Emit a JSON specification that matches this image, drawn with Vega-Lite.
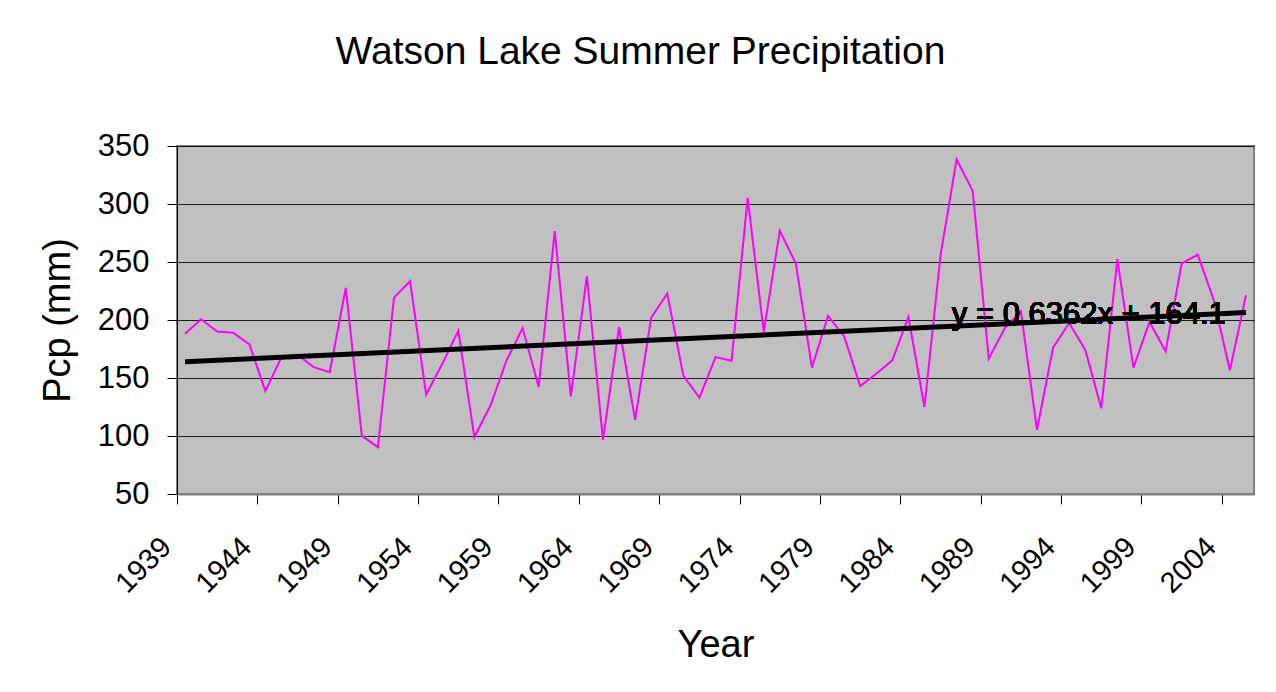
{
  "$schema": "https://vega.github.io/schema/vega-lite/v6.json",
  "width": 1077,
  "height": 348,
  "autosize": {"type": "none"},
  "padding": {"left": 177, "top": 146, "right": 22, "bottom": 198},
  "background": "white",
  "title": {
    "text": "Watson Lake Summer Precipitation",
    "font": "Liberation Sans",
    "fontSize": 39,
    "fontWeight": "normal",
    "color": "black",
    "anchor": "middle",
    "dx": -75,
    "offset": 58
  },
  "config": {
    "view": {"fill": "#C0C0C0", "stroke": "#808080", "strokeWidth": 2},
    "font": "Liberation Sans"
  },
  "data": {
    "values": [
      {"Year": 1939, "Pcp": 188.2}, {"Year": 1940, "Pcp": 200.6}, {"Year": 1941, "Pcp": 190.0}, {"Year": 1942, "Pcp": 189.0},
      {"Year": 1943, "Pcp": 179.0}, {"Year": 1944, "Pcp": 138.7}, {"Year": 1945, "Pcp": 168.0}, {"Year": 1946, "Pcp": 170.0},
      {"Year": 1947, "Pcp": 159.4}, {"Year": 1948, "Pcp": 155.0}, {"Year": 1949, "Pcp": 227.7}, {"Year": 1950, "Pcp": 100.1},
      {"Year": 1951, "Pcp": 90.4}, {"Year": 1952, "Pcp": 219.3}, {"Year": 1953, "Pcp": 233.4}, {"Year": 1954, "Pcp": 135.8},
      {"Year": 1955, "Pcp": 162.0}, {"Year": 1956, "Pcp": 190.8}, {"Year": 1957, "Pcp": 99.0}, {"Year": 1958, "Pcp": 126.3},
      {"Year": 1959, "Pcp": 165.2}, {"Year": 1960, "Pcp": 193.1}, {"Year": 1961, "Pcp": 142.2}, {"Year": 1962, "Pcp": 276.6},
      {"Year": 1963, "Pcp": 134.1}, {"Year": 1964, "Pcp": 237.7}, {"Year": 1965, "Pcp": 96.7}, {"Year": 1966, "Pcp": 194.0},
      {"Year": 1967, "Pcp": 114.0}, {"Year": 1968, "Pcp": 202.0}, {"Year": 1969, "Pcp": 222.8}, {"Year": 1970, "Pcp": 152.0},
      {"Year": 1971, "Pcp": 133.0}, {"Year": 1972, "Pcp": 168.0}, {"Year": 1973, "Pcp": 164.9}, {"Year": 1974, "Pcp": 305.4},
      {"Year": 1975, "Pcp": 189.7}, {"Year": 1976, "Pcp": 276.9}, {"Year": 1977, "Pcp": 248.7}, {"Year": 1978, "Pcp": 158.9},
      {"Year": 1979, "Pcp": 203.5}, {"Year": 1980, "Pcp": 186.0}, {"Year": 1981, "Pcp": 143.0}, {"Year": 1982, "Pcp": 153.7},
      {"Year": 1983, "Pcp": 165.2}, {"Year": 1984, "Pcp": 202.6}, {"Year": 1985, "Pcp": 125.0}, {"Year": 1986, "Pcp": 255.9},
      {"Year": 1987, "Pcp": 338.5}, {"Year": 1988, "Pcp": 311.4}, {"Year": 1989, "Pcp": 166.6}, {"Year": 1990, "Pcp": 193.0},
      {"Year": 1991, "Pcp": 207.5}, {"Year": 1992, "Pcp": 105.3}, {"Year": 1993, "Pcp": 176.1}, {"Year": 1994, "Pcp": 197.4},
      {"Year": 1995, "Pcp": 174.4}, {"Year": 1996, "Pcp": 124.0}, {"Year": 1997, "Pcp": 252.4}, {"Year": 1998, "Pcp": 159.0},
      {"Year": 1999, "Pcp": 198.3}, {"Year": 2000, "Pcp": 173.0}, {"Year": 2001, "Pcp": 248.7}, {"Year": 2002, "Pcp": 256.4},
      {"Year": 2003, "Pcp": 217.0}, {"Year": 2004, "Pcp": 156.6}, {"Year": 2005, "Pcp": 221.3}
    ]
  },
  "layer": [
    {
      "mark": {"type": "line", "color": "#FF00FF", "strokeWidth": 2},
      "encoding": {
        "x": {
          "field": "Year",
          "type": "quantitative",
          "scale": {"domain": [1938.5, 2005.5], "nice": false, "zero": false},
          "axis": {
            "title": "Year",
            "titleFont": "Liberation Sans",
            "titleFontSize": 38,
            "titleFontWeight": "normal",
            "titleColor": "black",
            "titlePadding": 28,
            "values": [1939, 1944, 1949, 1954, 1959, 1964, 1969, 1974, 1979, 1984, 1989, 1994, 1999, 2004],
            "format": "d",
            "labelFont": "Liberation Sans",
            "labelFontSize": 29,
            "labelColor": "black",
            "labelAngle": -45,
            "labelAlign": "right",
            "labelBaseline": "middle",
            "labelPadding": 38,
            "labelOffset": -11,
            "tickOffset": -8.03,
            "tickSize": 10,
            "tickColor": "black",
            "domainColor": "#808080",
            "domainWidth": 2,
            "grid": false,
            "labelOverlap": false,
            "labelFlush": false
          }
        },
        "y": {
          "field": "Pcp",
          "type": "quantitative",
          "scale": {"domain": [50, 350], "nice": false, "zero": false},
          "axis": {
            "title": "Pcp (mm)",
            "titleFont": "Liberation Sans",
            "titleFontSize": 38,
            "titleFontWeight": "normal",
            "titleColor": "black",
            "titlePadding": 20,
            "values": [50, 100, 150, 200, 250, 300, 350],
            "labelFont": "Liberation Sans",
            "labelFontSize": 31,
            "labelColor": "black",
            "labelPadding": 18,
            "tickSize": 10,
            "tickColor": "black",
            "domainColor": "black",
            "domainWidth": 1,
            "grid": true,
            "gridColor": "black",
            "gridWidth": 1,
            "gridOpacity": 0.85
          }
        }
      }
    },
    {
      "transform": [{"regression": "Pcp", "on": "Year"}],
      "mark": {"type": "line", "color": "black", "strokeWidth": 5},
      "encoding": {
        "x": {"field": "Year", "type": "quantitative"},
        "y": {"field": "Pcp", "type": "quantitative"}
      }
    },
    {
      "mark": {"type": "text", "text": "y = 0.6362x + 164.1", "align": "left", "baseline": "middle", "fontSize": 31, "fontWeight": "normal", "font": "Liberation Sans", "color": "black"},
      "encoding": {
        "x": {"datum": 1986.7, "type": "quantitative"},
        "y": {"datum": 204, "type": "quantitative"}
      }
    }
  ]
}
